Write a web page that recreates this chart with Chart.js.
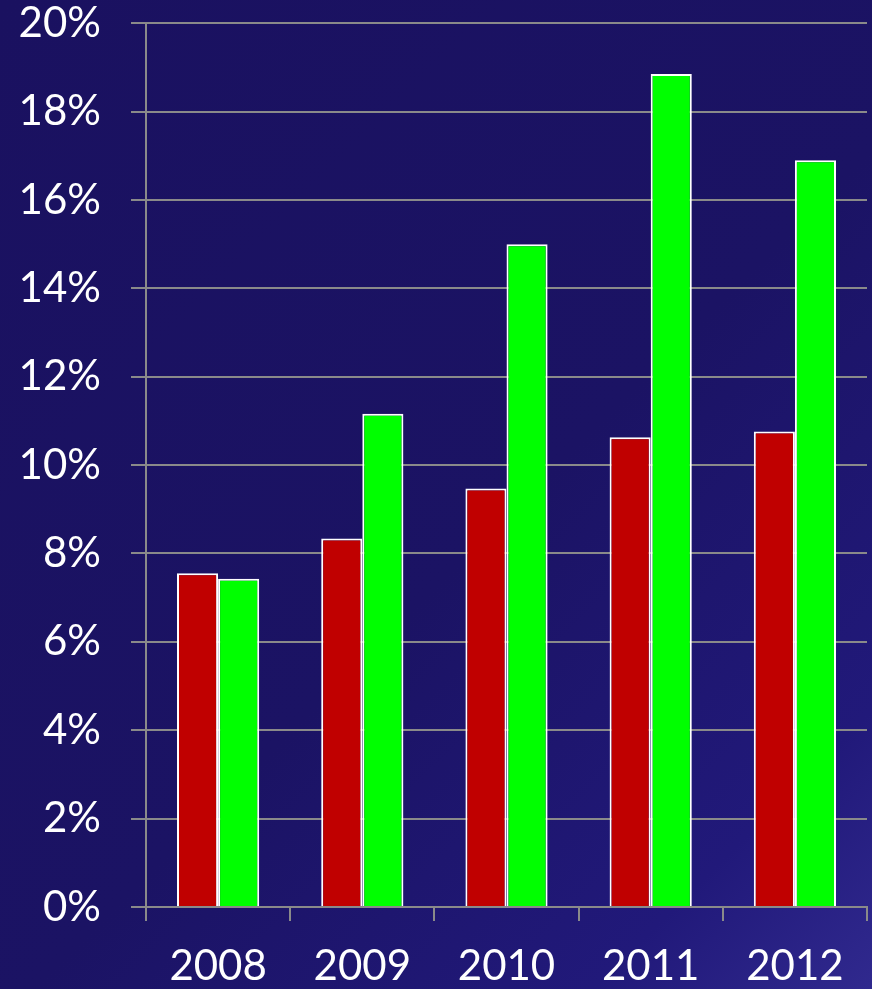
<!DOCTYPE html>
<html>
<head>
<meta charset="utf-8">
<script src="https://cdn.jsdelivr.net/npm/chart.js@4/dist/chart.umd.min.js"></script>
<style>
  html, body { margin: 0; padding: 0; }
  body {
    width: 872px; height: 989px; overflow: hidden;
    background: linear-gradient(135deg, #1a1160 0%, #1b1364 55%, #21197a 85%, #30298e 100%);
  }
  #wrap { position: relative; width: 872px; height: 1021px; margin-top: -32px; }
</style>
</head>
<body>
<div id="wrap"><canvas id="chart"></canvas></div>
<script>
const years = ['2008', '2009', '2010', '2011', '2012'];
const redValues = [7.55, 8.34, 9.47, 10.63, 10.76];
const greenValues = [7.43, 11.16, 15.0, 18.85, 16.9];
const yTicks = [0, 2, 4, 6, 8, 10, 12, 14, 16, 18, 20];

const gridColor = '#8a8a8a';

new Chart(document.getElementById('chart').getContext('2d'), {
  type: 'bar',
  data: {
    labels: years,
    datasets: [
      {
        label: 'Red',
        data: redValues,
        backgroundColor: '#c00000',
        borderColor: '#ffffff',
        borderWidth: 2,
        borderSkipped: 'bottom',
      },
      {
        label: 'Green',
        data: greenValues,
        backgroundColor: '#00ff00',
        borderColor: '#ffffff',
        borderWidth: 2,
        borderSkipped: 'bottom',
      },
    ],
  },
  options: {
    responsive: true,
    maintainAspectRatio: false,
    animation: false,
    layout: { padding: { top: 0, right: 5, left: 0, bottom: 0 } },
    plugins: { legend: { display: false }, tooltip: { enabled: false } },
    datasets: { bar: { categoryPercentage: 0.57, barPercentage: 1.0 } },
    scales: {
      x: {
        grid: { display: true, drawOnChartArea: false, offset: true, color: gridColor, lineWidth: 2, tickLength: 14 },
        border: { color: gridColor, width: 2 },
        ticks: { color: '#ffffff', font: { family: 'Lato', size: 42 }, padding: 20 },
        afterFit: (scale) => { scale.height = 82; },
      },
      y: {
        min: 0,
        max: 20,
        afterBuildTicks: (scale) => { scale.ticks = yTicks.map(v => ({ value: v })); },
        grid: { color: gridColor, lineWidth: 2, tickLength: 15 },
        border: { color: gridColor, width: 2 },
        ticks: {
          color: '#ffffff',
          font: { family: 'Lato', size: 42 },
          padding: 30,
          callback: (v) => v + '%',
        },
        afterFit: (scale) => { scale.width = 146; },
      },
    },
  },
});
</script>
</body>
</html>
